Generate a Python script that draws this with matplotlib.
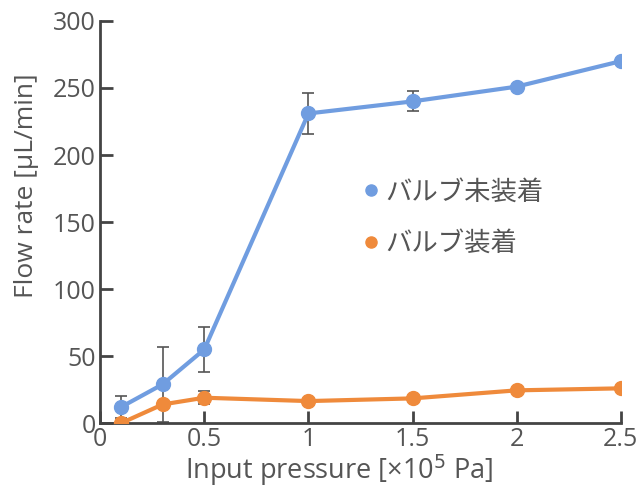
import numpy as np
import matplotlib
matplotlib.use("Agg")
import matplotlib.pyplot as plt

plt.rcParams['font.family'] = ['Open Sans', 'Noto Sans CJK JP', 'DejaVu Sans']

pressure = [0.1, 0.3, 0.5, 1.0, 1.5, 2.0, 2.5]
flow_no_valve = [12, 29, 55, 231, 240, 251, 270]
err_no_valve = [8, 28, 17, 15, 7.5, 0, 0]
flow_valve = [0, 14, 19, 16.5, 18.5, 24.5, 26]
err_valve = [0, 0, 5, 0, 0, 0, 0]

label_no_valve = "バルブ未装着"
label_valve = "バルブ装着"

blue = "#709de0"
orange = "#ef8a3b"
text_gray = "#555555"
axis_gray = "#444444"

fig = plt.figure(figsize=(6.42, 4.87), dpi=100)
ax = fig.add_axes([0.156, 0.131, 0.811, 0.826])

ax.errorbar(pressure, flow_no_valve, yerr=err_no_valve, fmt='none',
            ecolor="#555555", elinewidth=1.2, capsize=4, capthick=1.2, zorder=2)
ax.errorbar(pressure, flow_valve, yerr=err_valve, fmt='none',
            ecolor="#555555", elinewidth=1.2, capsize=4, capthick=1.2, zorder=2)
ax.plot(pressure, flow_no_valve, color=blue, lw=3, marker='o', ms=10, zorder=3)
ax.plot(pressure, flow_valve, color=orange, lw=3, marker='o', ms=10, zorder=3)

ax.set_xlim(0, 2.5)
ax.set_ylim(0, 300)
ax.set_xticks([0, 0.5, 1, 1.5, 2, 2.5])
ax.set_xticklabels(["0", "0.5", "1", "1.5", "2", "2.5"])
ax.set_yticks(np.arange(0, 301, 50))

for s in ["top", "right"]:
    ax.spines[s].set_visible(False)
for s in ["left", "bottom"]:
    ax.spines[s].set_color(axis_gray)
    ax.spines[s].set_linewidth(2)
ax.tick_params(direction='in', length=9, width=2, color=axis_gray,
               labelsize=18, labelcolor=text_gray, pad=3)

ax.set_xlabel("Input pressure [×10$^5$ Pa]", fontsize=19.5, color=text_gray, va='center')
ax.xaxis.set_label_coords(0.459, -0.117)
ax.set_ylabel("Flow rate [μL/min]", fontsize=19, color=text_gray, va='center')
ax.yaxis.set_label_coords(-0.142, 0.59)

ax.plot([], [], 'o', color=blue, ms=8, label=label_no_valve)
ax.plot([], [], 'o', color=orange, ms=8, label=label_valve)
handles, labels = ax.get_legend_handles_labels()
leg = ax.legend(handles, labels, loc='upper left', bbox_to_anchor=(0.452, 0.668),
                frameon=False, handletextpad=0.1, handlelength=0.9,
                labelspacing=0.93, prop={'family': ['Noto Sans CJK JP'], 'size': 19})
for t in leg.get_texts():
    t.set_color(text_gray)

fig.savefig("out.png", dpi=100)
